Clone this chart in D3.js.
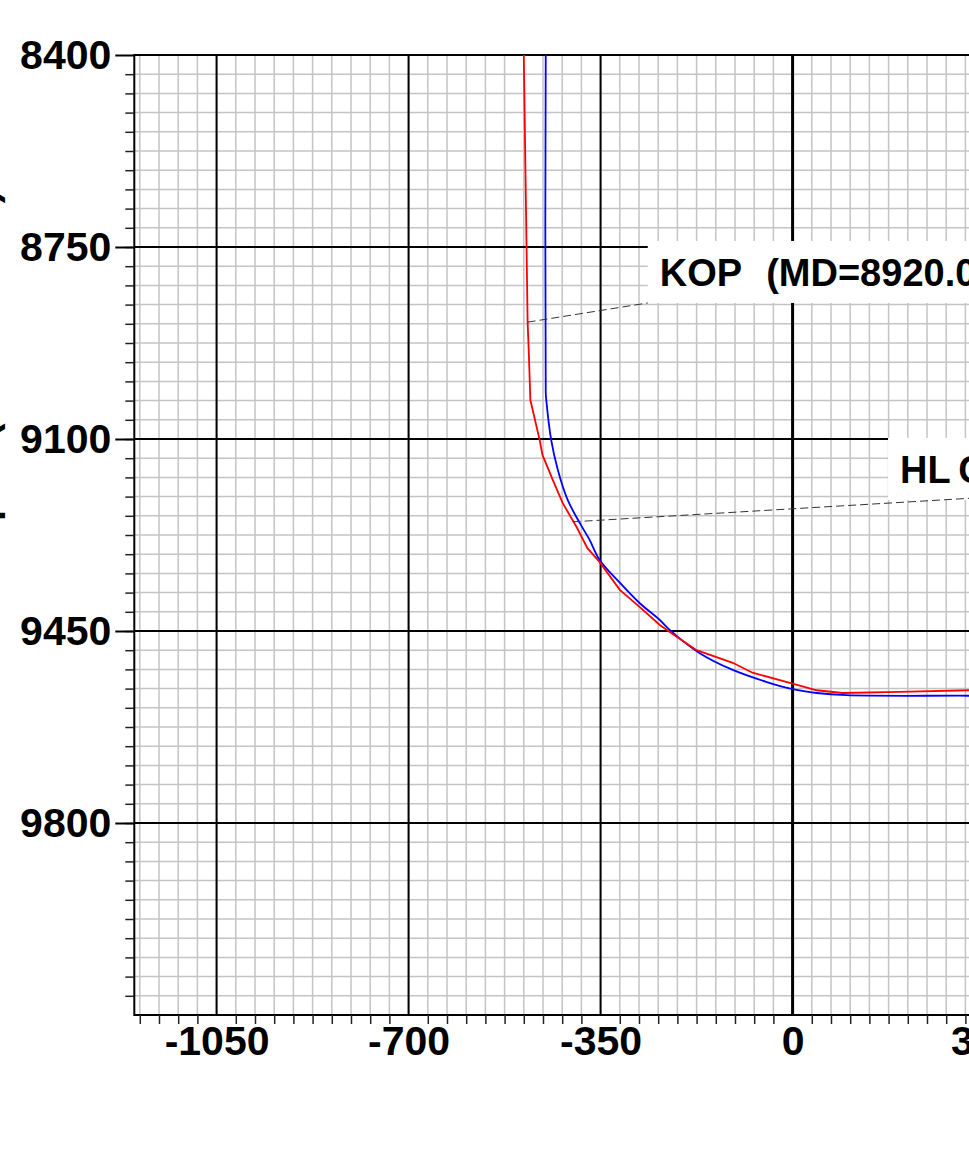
<!DOCTYPE html>
<html>
<head>
<meta charset="utf-8">
<script src="https://cdn.jsdelivr.net/npm/d3@7"></script>
<style>
  html, body { margin: 0; padding: 0; background: #fff; overflow: hidden; }
  text { font-family: "Liberation Sans", Arial, sans-serif; font-weight: bold; white-space: pre; }
</style>
</head>
<body>
<svg id="chart" width="1300" height="1169"></svg>
<script>
// tick labels
var xMajor = [-1050, -700, -350, 0, 350];
var yMajor = [8400, 8750, 9100, 9450, 9800];

// blue well path (horizontal displacement, TVD)
var blueX = [-450, -450, -449, -440, -428, -410, -388, -370, -352, -315, -279, -242, -224, -170, -109, -47, 0, 44, 98, 321, 700];
var blueY = [8400, 9015, 9029, 9102, 9156, 9211, 9253, 9284, 9320, 9362, 9399, 9430, 9448, 9490, 9521, 9543, 9556, 9563, 9567, 9568, 9568];

// red well path
var redX = [-490, -483, -481, -478, -461, -456, -437, -419, -394, -374, -352, -315, -279, -242, -224, -175, -109, -73, 0, 44, 91, 195, 321, 700];
var redY = [8400, 8887, 8938, 9029, 9102, 9129, 9175, 9217, 9260, 9299, 9324, 9375, 9406, 9439, 9452, 9485, 9508, 9526, 9546, 9558, 9563, 9561, 9558, 9550];

// annotations
var noteText = ["KOP   (MD=8920.00 ft)", "HL Casing Point"];
var notePtX = [-483, -401];
var notePtY = [8887, 9251];
var noteBoxX = [-264, 174];
var noteBoxY = [8852, 9211];
var noteEndX = [-264, 560];
var noteEndY = [8852, 9194];

var svg = d3.select("#chart");
var k = 192 / 350;
var LEFT = 134.3, TOP = 55;

var x = d3.scaleLinear().domain([-1200, 700]).range([LEFT, LEFT + 1900 * k]);
var y = d3.scaleLinear().domain([8400, 10150]).range([TOP, TOP + 1750 * k]);

var xMinor = d3.range(-1190, 700, 35);
var yMinor = d3.range(8435, 10150, 35);
var fmt = function(d) { return String(d); };

// minor grid
var grid = svg.append("g");
grid.selectAll(".gx").data(xMinor).enter().append("line")
  .attr("x1", function(d) { return x(d); }).attr("x2", function(d) { return x(d); })
  .attr("y1", y(8400)).attr("y2", y(10150))
  .attr("stroke", "#c4c4c4").attr("stroke-width", 1.5);
grid.selectAll(".gy").data(yMinor).enter().append("line")
  .attr("x1", x(-1200)).attr("x2", x(700))
  .attr("y1", function(d) { return y(d); }).attr("y2", function(d) { return y(d); })
  .attr("stroke", "#c4c4c4").attr("stroke-width", 1.5);

// major grid
grid.selectAll(".mx").data(xMajor).enter().append("line")
  .attr("x1", function(d) { return x(d); }).attr("x2", function(d) { return x(d); })
  .attr("y1", y(8400)).attr("y2", y(10150))
  .attr("stroke", "#000").attr("stroke-width", function(d) { return d === 0 ? 3 : 2; });
grid.selectAll(".my").data(yMajor).enter().append("line")
  .attr("x1", x(-1200)).attr("x2", x(700))
  .attr("y1", function(d) { return y(d); }).attr("y2", function(d) { return y(d); })
  .attr("stroke", "#000").attr("stroke-width", 2);

// frame
svg.append("rect")
  .attr("x", x(-1200)).attr("y", y(8400))
  .attr("width", x(700) - x(-1200)).attr("height", y(10150) - y(8400))
  .attr("fill", "none").attr("stroke", "#000").attr("stroke-width", 2);

// y axis
var yMinorAxis = d3.axisLeft(y).tickValues(yMinor).tickSize(9).tickFormat("");
svg.append("g").attr("transform", "translate(" + x(-1200) + ",0)").call(yMinorAxis)
  .call(function(g) { g.select(".domain").remove(); })
  .selectAll("line").attr("stroke", "#222").attr("stroke-width", 1.5);

var yAxis = d3.axisLeft(y).tickValues(yMajor).tickSize(19).tickPadding(4).tickFormat(fmt);
var yg = svg.append("g").attr("transform", "translate(" + x(-1200) + ",0)").call(yAxis);
yg.select(".domain").remove();
yg.selectAll("line").attr("stroke", "#000").attr("stroke-width", 2);
yg.selectAll("text").attr("font-size", 41).attr("fill", "#000")
  .style("font-family", "'Liberation Sans', Arial, sans-serif").style("font-weight", "bold");

// x axis
var xMinorAxis = d3.axisBottom(x).tickValues(xMinor.filter(function(d) { return d % 350 !== 0; }))
  .tickSize(9).tickFormat("");
svg.append("g").attr("transform", "translate(0," + y(10150) + ")").call(xMinorAxis)
  .call(function(g) { g.select(".domain").remove(); })
  .selectAll("line").attr("stroke", "#222").attr("stroke-width", 1.5);

var xAxis = d3.axisBottom(x).tickValues(xMajor).tickSize(0).tickPadding(11).tickFormat(fmt);
var xg = svg.append("g").attr("transform", "translate(0," + y(10150) + ")").call(xAxis);
xg.select(".domain").remove();
xg.selectAll("text").attr("font-size", 41).attr("fill", "#000")
  .style("font-family", "'Liberation Sans', Arial, sans-serif").style("font-weight", "bold");

// y title (mostly off the left edge)
svg.append("text")
  .attr("transform", "translate(-3,190) rotate(-90)")
  .attr("text-anchor", "end")
  .attr("font-size", 40)
  .text("True Vertical Depth  (TVD in Feet)");

// well paths
var line = d3.line()
  .x(function(d) { return x(d[0]); })
  .y(function(d) { return y(d[1]); });

svg.append("path").datum(d3.zip(blueX, blueY))
  .attr("d", line.curve(d3.curveCatmullRom.alpha(0.5))).attr("fill", "none")
  .attr("stroke", "#0000ff").attr("stroke-width", 1.8);
svg.append("path").datum(d3.zip(redX, redY))
  .attr("d", line.curve(d3.curveLinear)).attr("fill", "none")
  .attr("stroke", "#ff0000").attr("stroke-width", 1.8);

// annotation boxes and leaders
noteText.forEach(function(t, i) {
  var bx = x(noteBoxX[i]), by = y(noteBoxY[i]);
  svg.append("rect")
    .attr("x", bx).attr("y", by - 62)
    .attr("width", 700).attr("height", 62)
    .attr("fill", "#fff");
  svg.append("text")
    .attr("x", bx + 12).attr("y", by - 17)
    .attr("font-size", 38).attr("fill", "#000")
    .style("word-spacing", "-2.3px")
    .text(t);
  svg.append("line")
    .attr("x1", x(notePtX[i])).attr("y1", y(notePtY[i]))
    .attr("x2", x(noteEndX[i])).attr("y2", y(noteEndY[i]))
    .attr("stroke", "#333").attr("stroke-width", 1)
    .attr("stroke-dasharray", "8,4");
});
</script>
</body>
</html>
